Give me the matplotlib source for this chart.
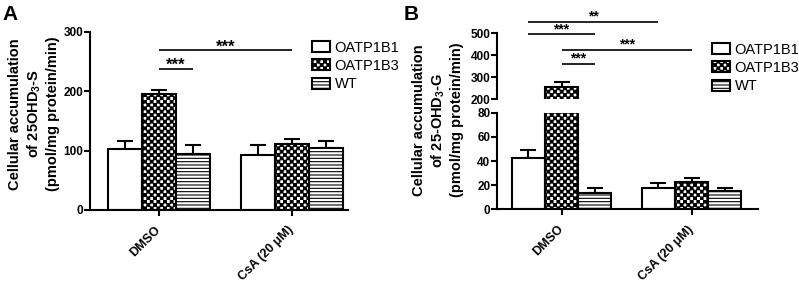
import numpy as np
import matplotlib
matplotlib.use('Agg')
import matplotlib.pyplot as plt
import matplotlib.hatch as mhatch
from matplotlib.path import Path

# ---------------- data ----------------
groups = ['DMSO', 'CsA (20 μM)']
series = ['OATP1B1', 'OATP1B3', 'WT']

a_oatp1b1 = [103, 93]
a_oatp1b1_err = [13, 16]
a_oatp1b3 = [196, 111]
a_oatp1b3_err = [6, 9]
a_wt = [95, 104]
a_wt_err = [15, 12]

b_oatp1b1 = [42.7, 17.4]
b_oatp1b1_err = [6.3, 4.1]
b_oatp1b3 = [257, 22.3]
b_oatp1b3_err = [23, 3.9]
b_wt = [13.7, 15.4]
b_wt_err = [3.7, 2.5]

a_yticks = [0, 100, 200, 300]
b_low_yticks = [0, 20, 40, 60, 80]
b_up_yticks = [200, 300, 400, 500]

# significance: (group1, series1, group2, series2, level, label)
a_sig = [(0, 'OATP1B3', 1, 'OATP1B3', 269, '***'),
         (0, 'OATP1B3', 0, 'WT', 238, '***')]
b_sig = [(0, 'OATP1B1', 1, 'OATP1B1', 553, '**'),
         (0, 'OATP1B1', 0, 'WT', 495, '***'),
         (0, 'OATP1B3', 1, 'OATP1B3', 424, '***'),
         (0, 'OATP1B3', 0, 'WT', 361, '***')]


# ---------------- checkerboard hatch ----------------
class CheckerHatch(mhatch.HatchPatternBase):
    def __init__(self, hatch, density):
        n = hatch.count('o') * density
        n += n % 2
        self.n = n
        self.num_vertices = (n * n // 2) * 5 if n else 0

    def set_vertices_and_codes(self, vertices, codes):
        n = self.n
        s = 1.0 / n
        sh = 0.08 * s
        k = 0
        for i in range(n):
            for j in range(n):
                if (i + j) % 2 == 0:
                    x0, y0 = i * s + sh, j * s + sh
                    x1, y1 = (i + 1) * s - sh, (j + 1) * s - sh
                    vertices[k:k + 5] = [[x0, y0], [x1, y0], [x1, y1], [x0, y1], [x0, y0]]
                    codes[k:k + 5] = [Path.MOVETO, Path.LINETO, Path.LINETO,
                                      Path.LINETO, Path.CLOSEPOLY]
                    k += 5


mhatch._hatch_types = [CheckerHatch if t is mhatch.SmallCircles else t
                       for t in mhatch._hatch_types]

plt.rcParams['font.family'] = ['Liberation Sans', 'DejaVu Sans']
plt.rcParams['mathtext.default'] = 'regular'
plt.rcParams['hatch.linewidth'] = 0.8
plt.rcParams['hatch.color'] = 'black'

W, H = 799, 283
fig = plt.figure(figsize=(W / 100, H / 100), dpi=100)


def fx(px):
    return px / W


def fy(py):
    return 1 - py / H


hatches = {'OATP1B1': '', 'OATP1B3': 'ooooo', 'WT': '-----'}
bw = 0.255
offsets = {'OATP1B1': -bw, 'OATP1B3': 0.0, 'WT': bw}
xg = np.arange(len(groups))


def pos(g, s):
    return xg[g] + offsets[s]


def style_ax(ax, bottom=True):
    for sp in ['top', 'right']:
        ax.spines[sp].set_visible(False)
    ax.spines['left'].set_linewidth(1.5)
    if bottom:
        ax.spines['bottom'].set_linewidth(1.5)
    else:
        ax.spines['bottom'].set_visible(False)
    ax.tick_params(axis='y', direction='out', length=4, width=1.5, pad=0.8,
                   labelsize=8.5)
    ax.tick_params(axis='x', direction='out', length=4, width=1.5, pad=9,
                   labelsize=9)
    for lab in ax.get_yticklabels():
        lab.set_fontweight('bold')


def draw_bars(ax, data):
    handles = []
    for s in series:
        vals, errs = data[s]
        b = ax.bar(xg + offsets[s], vals, bw, facecolor='white', edgecolor='black',
                   linewidth=1.5, hatch=hatches[s], label=s, zorder=2)
        ax.errorbar(xg + offsets[s], vals, yerr=[np.zeros(len(vals)), errs], fmt='none',
                    ecolor='black', elinewidth=1.5, capsize=6, capthick=1.5, zorder=1)
        handles.append(b)
    return handles


def draw_sig(ax, sigs, fs, dy):
    for g1, s1, g2, s2, lev, lab in sigs:
        x1, x2 = pos(g1, s1), pos(g2, s2)
        ax.plot([x1, x2], [lev, lev], color='black', lw=1.2, clip_on=False,
                solid_capstyle='butt')
        ax.annotate(lab, ((x1 + x2) / 2, lev), xytext=(0, dy), textcoords='offset points',
                    ha='center', va='baseline', fontsize=fs, fontweight='bold',
                    annotation_clip=False)


def set_xlabels(ax):
    ax.set_xticks(xg)
    ax.set_xticklabels(groups, rotation=45, ha='right', va='center',
                       rotation_mode='anchor', fontweight='bold')


# ---------------- Panel A ----------------
axA = fig.add_axes([fx(90), fy(210), fx(348 - 90), (210 - 32) / H])
dataA = {'OATP1B1': (a_oatp1b1, a_oatp1b1_err),
         'OATP1B3': (a_oatp1b3, a_oatp1b3_err),
         'WT': (a_wt, a_wt_err)}
hA = draw_bars(axA, dataA)
axA.set_xlim(-0.52, 1.42)
axA.set_ylim(0, 300)
axA.set_yticks(a_yticks)
set_xlabels(axA)
style_ax(axA)
draw_sig(axA, a_sig, 12, -1)
fig.legend(hA, series, loc='upper left', bbox_to_anchor=(fx(312), fy(40.5)),
           frameon=False, fontsize=10.5, handlelength=1.25, handleheight=0.75,
           handletextpad=0.3, labelspacing=0.3, borderpad=0, borderaxespad=0)
fig.text(fx(34), fy(114),
         'Cellular accumulation\nof 25OHD$_3$-S\n(pmol/mg protein/min)',
         rotation=90, ha='center', va='center', multialignment='center',
         fontsize=10.5, fontweight='bold', linespacing=1.3)
fig.text(fx(2), fy(19.5), 'A', fontsize=15, fontweight='bold', va='baseline')

# ---------------- Panel B ----------------
axBl = fig.add_axes([fx(497), fy(209.3), fx(758 - 497), (209.3 - 112.7) / H])
axBu = fig.add_axes([fx(497), fy(99.3), fx(758 - 497), (99.3 - 33.3) / H],
                    sharex=axBl)
dataB = {'OATP1B1': (b_oatp1b1, b_oatp1b1_err),
         'OATP1B3': (b_oatp1b3, b_oatp1b3_err),
         'WT': (b_wt, b_wt_err)}
hB = draw_bars(axBl, dataB)
draw_bars(axBu, dataB)
axBl.set_xlim(-0.496, 1.51)
axBl.set_ylim(0, 80)
axBl.set_yticks(b_low_yticks)
axBu.set_ylim(200, 500)
axBu.set_yticks(b_up_yticks)
set_xlabels(axBl)
style_ax(axBl)
style_ax(axBu, bottom=False)
axBu.tick_params(axis='x', bottom=False, labelbottom=False)
draw_sig(axBu, b_sig, 10, 1)
fig.legend(hB, series, loc='upper left', bbox_to_anchor=(fx(712), fy(42.5)),
           frameon=False, fontsize=10.5, handlelength=1.25, handleheight=0.75,
           handletextpad=0.3, labelspacing=0.3, borderpad=0, borderaxespad=0)
fig.text(fx(438), fy(120),
         'Cellular accumulation\nof 25-OHD$_3$-G\n(pmol/mg protein/min)',
         rotation=90, ha='center', va='center', multialignment='center',
         fontsize=10.5, fontweight='bold', linespacing=1.3)
fig.text(fx(404), fy(19.5), 'B', fontsize=15, fontweight='bold', va='baseline')

fig.savefig('out.png', dpi=100)
